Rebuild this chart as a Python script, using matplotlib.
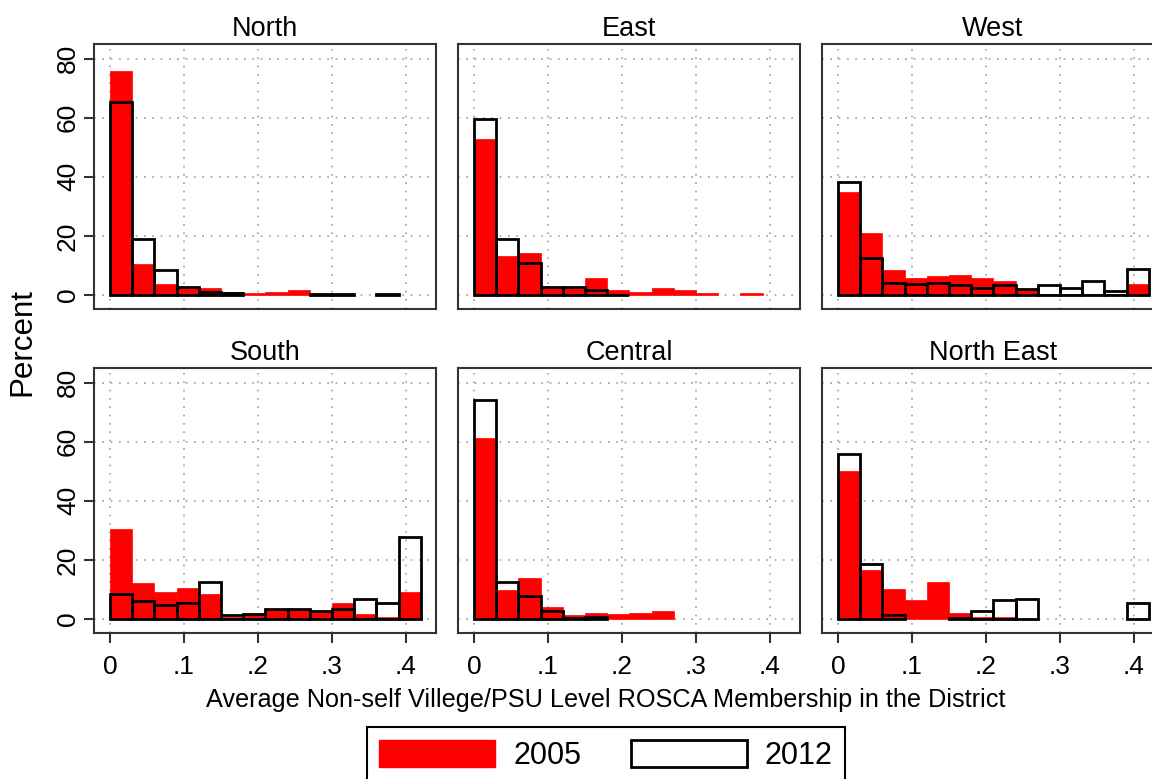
import numpy as np
import matplotlib
matplotlib.use("Agg")
import matplotlib.pyplot as plt
from matplotlib.patches import Patch

plt.rcParams['font.family'] = ['Liberation Sans', 'DejaVu Sans']

# bins of width .03 starting at 0 (14 bins up to .42); nan = empty bin
bin_width = 0.03
bin_left = np.arange(14) * bin_width

regions = ["North", "East", "West", "South", "Central", "North East"]
nan = np.nan

north_2005 = [75.7, 10.3, 3.6, 2.4, 2.4, 0.9, 0.5, 1.0, 1.8, 0.3, nan, nan, nan, nan]
north_2012 = [65.5, 18.8, 8.3, 2.6, 1.0, 0.7, nan, nan, nan, 0.3, 0.2, nan, 0.2, nan]

east_2005 = [52.8, 13.1, 14.3, 2.6, 2.4, 5.7, 1.8, 0.9, 2.4, 1.7, 0.6, nan, 0.5, nan]
east_2012 = [59.7, 18.8, 10.9, 2.8, 2.5, 1.8, 0.1, nan, nan, nan, nan, nan, nan, nan]

west_2005 = [35.0, 20.8, 8.5, 5.8, 6.4, 6.6, 5.8, 4.7, 1.5, 0.2, 0.3, 0.4, 0.3, 3.8]
west_2012 = [38.2, 12.5, 4.0, 3.6, 4.1, 3.4, 2.3, 3.2, 1.9, 3.2, 2.2, 4.7, 1.4, 8.6]

south_2005 = [30.4, 12.3, 9.0, 10.4, 8.3, 0.5, 1.5, 3.3, 3.5, 2.4, 5.2, 1.8, 0.7, 9.0]
south_2012 = [8.5, 5.9, 4.6, 5.4, 12.6, 1.3, 1.8, 3.2, 3.4, 2.6, 3.4, 6.8, 5.2, 27.9]

central_2005 = [61.3, 9.7, 13.9, 4.1, 1.3, 2.0, 1.7, 2.0, 2.8, nan, nan, nan, nan, nan]
central_2012 = [74.2, 12.4, 7.6, 2.6, 0.2, 0.5, nan, nan, nan, nan, nan, nan, nan, nan]

neast_2005 = [50.1, 16.5, 10.0, 6.4, 12.5, 2.0, 0.5, 0.5, nan, nan, nan, nan, nan, nan]
neast_2012 = [55.9, 18.5, 1.3, nan, nan, 0.2, 2.7, 6.4, 6.8, nan, nan, nan, nan, 5.2]

data_2005 = [north_2005, east_2005, west_2005, south_2005, central_2005, neast_2005]
data_2012 = [north_2012, east_2012, west_2012, south_2012, central_2012, neast_2012]

xticks = [0, 0.1, 0.2, 0.3, 0.4]
xticklabels = ["0", ".1", ".2", ".3", ".4"]
yticks = [0, 20, 40, 60, 80]

W, H = 1152, 779
fig = plt.figure(figsize=(W / 100, H / 100), dpi=100)

lefts = [94, 458, 822]
tops = [44, 368]
aw, ah = 342, 265

for i, reg in enumerate(regions):
    r, c = divmod(i, 3)
    ax = fig.add_axes([lefts[c] / W, 1 - (tops[r] + ah) / H, aw / W, ah / H])
    v05 = np.array(data_2005[i], dtype=float)
    v12 = np.array(data_2012[i], dtype=float)
    m05 = ~np.isnan(v05)
    m12 = ~np.isnan(v12)
    ax.bar(bin_left[m05], v05[m05], width=bin_width, align='edge',
           color='#ff0000', edgecolor='#ff0000', linewidth=0.5, zorder=2)
    ax.bar(bin_left[m12], v12[m12], width=bin_width, align='edge',
           fill=False, edgecolor='black', linewidth=2.0, zorder=3)

    ax.set_xlim(-0.0216, 0.4405)
    ax.set_ylim(-4.8, 85)
    ax.set_xticks(xticks)
    ax.set_yticks(yticks)
    ax.grid(True, linestyle=(0, (1, 4)), color='#a0a0a0', linewidth=1.2, zorder=0)
    ax.set_axisbelow(True)
    for s in ax.spines.values():
        s.set_linewidth(1.5)
        s.set_color('#333333')
    ax.set_title(reg, fontsize=19.5, pad=6)

    ax.tick_params(axis='both', labelsize=19, width=1.5, length=7, color='#333333')
    ax.tick_params(axis='x', pad=9)
    ax.tick_params(axis='y', pad=3)
    if c == 0:
        ax.set_yticklabels([str(t) for t in yticks], rotation=90, va='center')
    else:
        ax.tick_params(axis='y', left=False, labelleft=False)
    if r == 1:
        ax.set_xticklabels(xticklabels)
    else:
        ax.tick_params(axis='x', bottom=False, labelbottom=False)

fig.text(22 / W, 1 - 342 / H, "Percent", rotation=90, ha='center', va='center', fontsize=22.5)
fig.text(606 / W, 1 - 700 / H, "Average Non-self Villege/PSU Level ROSCA Membership in the District",
         ha='center', va='center', fontsize=18.2)

handles = [Patch(facecolor='#ff0000', edgecolor='#ff0000'),
           Patch(facecolor='white', edgecolor='black', linewidth=2)]
leg = fig.legend(handles, ["2005", "2012"], loc='upper center',
                 bbox_to_anchor=(606 / W, 1 - 712 / H), ncol=2, fontsize=22,
                 handlelength=3.8, handleheight=1.0, columnspacing=1.6,
                 handletextpad=0.6, borderpad=0.4, fancybox=False,
                 edgecolor='black', framealpha=1)
leg.get_frame().set_linewidth(1.5)

fig.savefig("out.png", dpi=100)
